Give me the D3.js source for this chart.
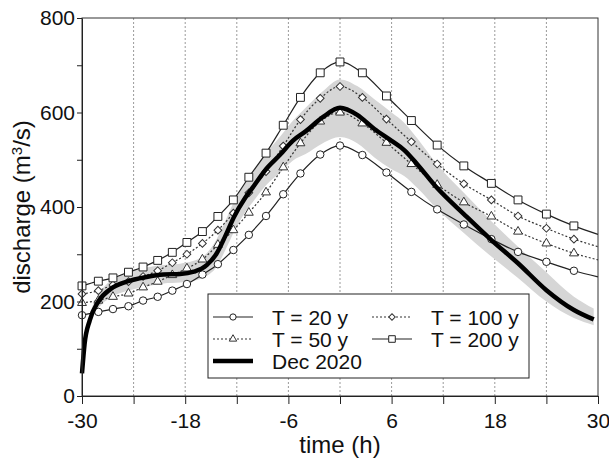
<!DOCTYPE html>
<html>
<head>
<meta charset="utf-8">
<script src="https://cdn.jsdelivr.net/npm/d3@7"></script>
<style>
  body { margin: 0; background: #fff; }
  svg text { font-family: "Liberation Sans", Arial, sans-serif; fill: #111; }
</style>
</head>
<body>
<svg id="chart" width="609" height="459"></svg>
<script>
// marker times (h) shared by the design hydrographs, last point has no marker
const markTimes = [-30, -28.1, -26.4, -24.6, -22.9, -21.2, -19.5, -17.8, -16.0, -14.2, -12.4, -10.6, -8.6,
    -6.6, -4.6, -2.3, 0, 2.6, 5.4, 8.3, 11.3, 14.4, 17.6, 20.7, 24.0, 27.2, 30];

const q20 = [171, 178, 184, 190, 202, 210, 223, 237, 257, 279, 309, 341, 381,
    427, 471, 511, 530, 510, 473, 432, 395, 363, 332, 305, 284, 265, 252];
const q50 = [197, 202, 210, 217, 230, 242, 256, 270, 289, 320, 351, 388, 431,
    484, 535, 581, 600, 577, 536, 491, 447, 410, 380, 348, 323, 302, 288];
const q100 = [216, 223, 235, 242, 253, 265, 282, 300, 323, 351, 387, 430, 475,
    529, 585, 630, 655, 632, 586, 538, 491, 449, 415, 381, 355, 332, 316];
const q200 = [233, 243, 250, 262, 273, 287, 304, 325, 348, 380, 415, 463, 514,
    573, 632, 684, 707, 684, 635, 583, 531, 487, 450, 415, 385, 360, 342];

// observed event Dec 2020 and its uncertainty band
const decTimes = [-30, -29.7, -29.1, -28.1, -26.7, -24.8, -22.5, -20.5, -18.6, -17, -15.5, -14.4, -13.3,
    -12.3, -11, -10, -8.6, -7, -5.5, -4, -2, 0, 2, 4, 6, 7.5, 9, 11.3, 14.4, 17.6, 20.7, 24, 27.2, 29.5];
const decQ = [48, 110, 160, 200, 226, 242, 252, 257, 258, 263, 277, 300, 340,
    380, 420, 445, 480, 510, 540, 560, 590, 610, 595, 565, 540, 520, 490, 440, 385, 330, 281, 224, 182, 162];
const decLow = [45, 100, 148, 185, 208, 222, 232, 238, 240, 244, 254, 272, 310,
    348, 390, 414, 446, 472, 498, 512, 535, 548, 535, 505, 480, 465, 440, 395, 345, 295, 250, 200, 165, 150];
const decHigh = [52, 118, 172, 214, 244, 262, 272, 277, 280, 286, 302, 330, 372,
    412, 452, 478, 514, 548, 582, 610, 645, 670, 656, 628, 600, 578, 545, 490, 430, 370, 316, 262, 210, 185];

const xTicks = [-30, -24, -18, -12, -6, 0, 6, 12, 18, 24, 30];
const xTickLabels = [-30, -18, -6, 6, 18, 30];
const yTicks = [0, 100, 200, 300, 400, 500, 600, 700, 800];
const yTickLabels = [0, 200, 400, 600, 800];

const margin = { top: 18, right: 11, bottom: 63, left: 82 };
const width = 609 - margin.left - margin.right;
const height = 459 - margin.top - margin.bottom;

const svg = d3.select("#chart");
const g = svg.append("g").attr("transform", "translate(" + margin.left + "," + margin.top + ")");

const x = d3.scaleLinear().domain([-30, 30]).range([0, width]);
const y = d3.scaleLinear().domain([0, 800]).range([height, 0]);

// dotted vertical grid
g.append("g").selectAll("line")
    .data(xTicks.filter(d => d > -30 && d < 30))
    .join("line")
    .attr("x1", d => x(d)).attr("x2", d => x(d))
    .attr("y1", 0).attr("y2", height)
    .attr("stroke", "#9a9a9a")
    .attr("stroke-width", 1)
    .attr("stroke-dasharray", "2,2");

// uncertainty band
const band = decTimes.map((t, i) => ({ t: t, lo: decLow[i], hi: decHigh[i] }));
g.append("path")
    .datum(band)
    .attr("fill", "#d6d6d6")
    .attr("d", d3.area()
        .x(d => x(d.t))
        .y0(d => y(d.lo))
        .y1(d => y(d.hi))
        .curve(d3.curveMonotoneX));

const series = [
    { name: "T = 20 y", values: q20, dash: null, color: "#222", symbol: d3.symbolCircle, size: 44, rot: 0 },
    { name: "T = 50 y", values: q50, dash: "2,2", color: "#333", symbol: d3.symbolTriangle, size: 34, rot: 0 },
    { name: "T = 100 y", values: q100, dash: "2,2", color: "#333", symbol: d3.symbolSquare, size: 30, rot: 45 },
    { name: "T = 200 y", values: q200, dash: null, color: "#222", symbol: d3.symbolSquare, size: 62, rot: 0 }
];

const line = d3.line()
    .x(d => x(d.t))
    .y(d => y(d.q))
    .curve(d3.curveMonotoneX);

series.forEach(s => {
    const pts = markTimes.map((t, i) => ({ t: t, q: s.values[i] }));
    g.append("path")
        .datum(pts)
        .attr("fill", "none")
        .attr("stroke", s.color)
        .attr("stroke-width", 1.2)
        .attr("stroke-dasharray", s.dash)
        .attr("d", line);

    g.append("g").selectAll("path")
        .data(pts.slice(0, -1))
        .join("path")
        .attr("transform", d => "translate(" + x(d.t) + "," + y(d.q) + ") rotate(" + s.rot + ")")
        .attr("d", d3.symbol().type(s.symbol).size(s.size))
        .attr("fill", "#fff")
        .attr("stroke", s.color)
        .attr("stroke-width", 1);
});

// Dec 2020 event
g.append("path")
    .datum(decTimes.map((t, i) => ({ t: t, q: decQ[i] })))
    .attr("fill", "none")
    .attr("stroke", "#000")
    .attr("stroke-width", 4.5)
    .attr("stroke-linejoin", "round")
    .attr("d", line);

// frame
g.append("rect")
    .attr("width", width).attr("height", height)
    .attr("fill", "none")
    .attr("stroke", "#333")
    .attr("stroke-width", 1);

// axes
const xAxis = g.append("g")
    .attr("transform", "translate(0," + height + ")")
    .call(d3.axisBottom(x)
        .tickValues(xTicks)
        .tickSize(8)
        .tickSizeOuter(0)
        .tickPadding(9)
        .tickFormat(d => xTickLabels.includes(d) ? d : ""));

const yAxis = g.append("g")
    .call(d3.axisLeft(y)
        .tickValues(yTicks)
        .tickSize(5)
        .tickSizeOuter(0)
        .tickPadding(2)
        .tickFormat(d => yTickLabels.includes(d) ? d : ""));

[xAxis, yAxis].forEach(a => {
    a.selectAll("text").style("font-size", "21px").attr("fill", "#111");
    a.selectAll("line").attr("stroke", "#222");
    a.select(".domain").attr("stroke", "#222");
});

// axis titles
svg.append("text")
    .attr("x", margin.left + width / 2)
    .attr("y", 453)
    .attr("text-anchor", "middle")
    .style("font-size", "24px")
    .text("time (h)");

const yTitle = svg.append("text")
    .attr("transform", "translate(30," + (margin.top + height / 2) + ") rotate(-90)")
    .attr("text-anchor", "middle")
    .style("font-size", "24px");
yTitle.append("tspan").text("discharge (m");
yTitle.append("tspan").attr("baseline-shift", "super").style("font-size", "15px").text("3");
yTitle.append("tspan").text("/s)");

// legend
const legend = svg.append("g").attr("transform", "translate(208,294)");
legend.append("rect")
    .attr("width", 321).attr("height", 84)
    .attr("fill", "#fff")
    .attr("stroke", "#222")
    .attr("stroke-width", 1);

const legendItems = [
    { s: series[0], col: 0, row: 0 },
    { s: series[1], col: 0, row: 1 },
    { s: { name: "Dec 2020", thick: true }, col: 0, row: 2 },
    { s: series[2], col: 1, row: 0 },
    { s: series[3], col: 1, row: 1 }
];

legendItems.forEach(it => {
    const lx = it.col === 0 ? 5 : 164;
    const ly = 23 + it.row * 22;
    const item = legend.append("g").attr("transform", "translate(" + lx + "," + ly + ")");
    if (it.s.thick) {
        item.append("line").attr("x1", 0).attr("x2", 40)
            .attr("stroke", "#000").attr("stroke-width", 4.5);
    } else {
        item.append("line").attr("x1", 0).attr("x2", 40)
            .attr("stroke", it.s.color).attr("stroke-width", 1.2)
            .attr("stroke-dasharray", it.s.dash);
        item.append("path")
            .attr("transform", "translate(20,0) rotate(" + it.s.rot + ")")
            .attr("d", d3.symbol().type(it.s.symbol).size(it.s.size * 0.7))
            .attr("fill", "#fff")
            .attr("stroke", it.s.color);
    }
    item.append("text")
        .attr("x", 59)
        .attr("dy", "0.36em")
        .style("font-size", "21px")
        .text(it.s.name);
});
</script>
</body>
</html>
